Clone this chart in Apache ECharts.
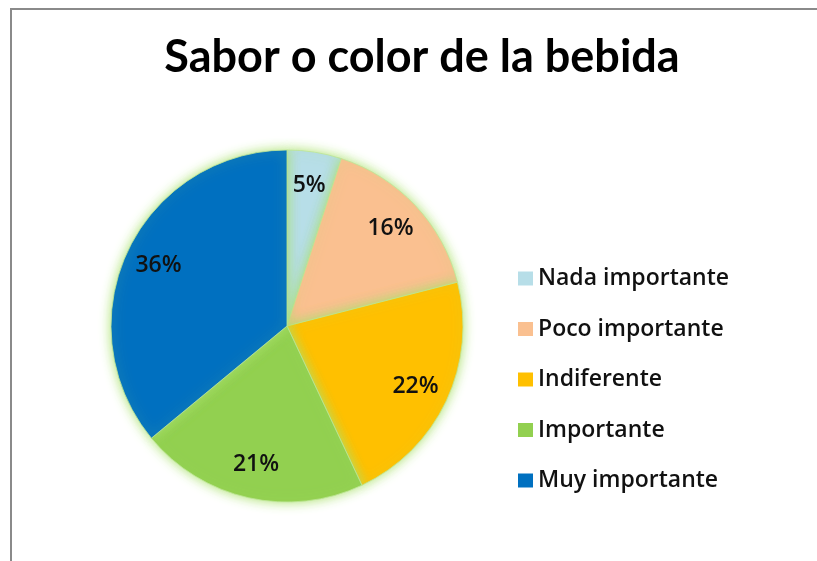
<!DOCTYPE html>
<html>
<head>
<meta charset="utf-8">
<script src="https://cdn.jsdelivr.net/npm/echarts@6/dist/echarts.min.js"></script>
<style>
html,body{margin:0;padding:0;background:#fff;overflow:hidden;}
#frame{position:absolute;left:10px;top:8px;width:830px;height:580px;border:2px solid #8a8a8a;box-sizing:border-box;}
#chart{position:absolute;left:0;top:0;width:817px;height:561px;}
</style>
</head>
<body>
<div id="frame"></div>
<div id="chart"></div>
<script>
const titleText = 'Sabor o color de la bebida';
const categories = ['Nada importante', 'Poco importante', 'Indiferente', 'Importante', 'Muy importante'];
const values = [5, 16, 22, 21, 36];
const colors = ['#B7DEE8', '#FAC090', '#FFC000', '#92D050', '#0070C0'];

const FONT = 'Lato, "Open Sans", sans-serif';
const FONT2 = '"Open Sans", Lato, sans-serif';
const pieData = categories.map((c, i) => ({ name: c, value: values[i], itemStyle: { color: colors[i] } }));

const chart = echarts.init(document.getElementById('chart'), null, { renderer: 'canvas' });
chart.setOption({
  backgroundColor: 'transparent',
  animation: false,
  title: {
    text: titleText,
    left: 417, textAlign: 'center', top: 30,
    textStyle: { fontFamily: FONT, fontSize: 45, fontWeight: 'bold', color: '#000' }
  },
  legend: {
    orient: 'vertical',
    left: 513, top: 262,
    itemWidth: 15, itemHeight: 14, itemGap: 27.5,
    icon: 'rect',
    data: categories,
    itemStyle: { borderWidth: 0 },
    textStyle: { fontFamily: FONT2, fontSize: 23, fontWeight: 600, lineHeight: 23, color: '#111', padding: [0, 0, 0, 0] }
  },
  series: [
    {
      type: 'pie',
      center: [287, 326], radius: [0, 176],
      startAngle: 90, clockwise: true,
      data: pieData,
      label: { show: false }, labelLine: { show: false },
      itemStyle: { borderColor: 'rgba(190,230,150,0.8)', borderWidth: 1, shadowBlur: 12, shadowColor: 'rgba(170,225,110,1)' },
      emphasis: { disabled: true }
    },
    {
      type: 'pie',
      center: [287, 326], radius: [0, 278],
      startAngle: 90, clockwise: true,
      silent: true,
      legendHoverLink: false,
      data: categories.map((c, i) => ({ name: c, value: values[i] })),
      itemStyle: { color: 'rgba(0,0,0,0)' },
      label: {
        show: true, position: 'inside',
        formatter: p => p.value + '%',
        fontFamily: FONT2, fontSize: 23, fontWeight: 600, color: '#111'
      },
      labelLine: { show: false },
      emphasis: { disabled: true }
    }
  ]
});
</script>
</body>
</html>
